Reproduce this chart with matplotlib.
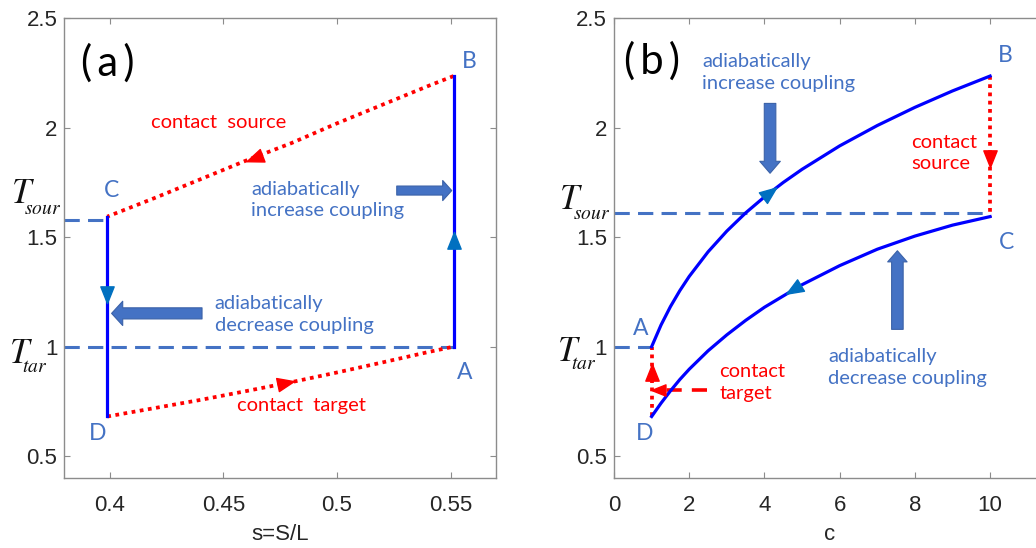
import numpy as np
import matplotlib
matplotlib.use("Agg")
import matplotlib.pyplot as plt
from matplotlib.markers import MarkerStyle
from matplotlib.path import Path
from matplotlib.transforms import Affine2D

# ---- panel (a): T against s=S/L ----
s_lim = (0.38, 0.57)
s_ticks = [0.4, 0.45, 0.5, 0.55]
s_ticklabels = ['0.4', '0.45', '0.5', '0.55']

s_AB = [0.5513, 0.5513]          # adiabatic stroke A -> B
T_AB = [1.0, 2.236]
s_CD = [0.3989, 0.3989]          # adiabatic stroke C -> D
T_CD = [1.594, 0.681]
s_BC = [0.5513, 0.54, 0.52, 0.50, 0.48, 0.46, 0.44, 0.42, 0.3989]   # contact source
T_BC = [2.236, 2.19, 2.105, 2.02, 1.93, 1.85, 1.765, 1.68, 1.594]
s_DA = [0.3989, 0.42, 0.44, 0.46, 0.48, 0.50, 0.52, 0.54, 0.5513]   # contact target
T_DA = [0.681, 0.72, 0.757, 0.797, 0.838, 0.882, 0.928, 0.975, 1.0]
T_sour_a = 1.58
T_tar_a = 1.0

# ---- panel (b): T against c ----
c_lim = (0, 11.48)
c_ticks = [0, 2, 4, 6, 8, 10]
c_AB = [1.0, 1.25, 1.5, 1.75, 2.0, 2.5, 3.0, 3.5, 4.0, 4.5, 5.0, 6.0, 7.0, 8.0, 9.0, 10.0]
T_cAB = [1.0, 1.099, 1.183, 1.256, 1.321, 1.433, 1.528, 1.611, 1.684, 1.750, 1.810,
         1.917, 2.010, 2.093, 2.168, 2.236]
c_CD = [10.0, 9.0, 8.0, 7.0, 6.0, 5.0, 4.0, 3.5, 3.0, 2.5, 2.0, 1.75, 1.5, 1.25, 1.0]
T_cCD = [1.594, 1.555, 1.505, 1.445, 1.370, 1.283, 1.180, 1.120, 1.054, 0.981, 0.897,
         0.850, 0.798, 0.742, 0.681]
c_BC = [10.0, 10.0]
T_cBC = [2.236, 1.594]
c_DA = [1.0, 1.0]
T_cDA = [0.681, 1.0]
T_sour_b = 1.612
T_tar_b = 1.0

T_lim = (0.4, 2.5)
T_ticks = [0.5, 1, 1.5, 2, 2.5]
T_ticklabels = ['0.5', '1', '1.5', '2', '2.5']

BLUE = '#0000FF'
SHAPE = '#4472C4'
MARK = '#0070C0'
RED = '#FF0000'
ANN_FONT = ['Lato', 'DejaVu Sans']
TICK_FONT = ['Liberation Sans Narrow', 'Liberation Sans', 'DejaVu Sans']

head_path = Path([(0.65, 0), (-0.55, 0.48), (-0.55, -0.48), (0.65, 0)],
                 [Path.MOVETO, Path.LINETO, Path.LINETO, Path.CLOSEPOLY])


def arrow_head(ax, p, q, color, ms):
    # arrowhead sitting at p, pointing toward q (direction taken in screen space)
    a = ax.transData.transform(p)
    b = ax.transData.transform(q)
    ang = np.degrees(np.arctan2(b[1] - a[1], b[0] - a[0]))
    m = MarkerStyle(head_path, transform=Affine2D().rotate_deg(ang))
    ax.plot([p[0]], [p[1]], ls='none', marker=m, ms=ms, color=color,
            mec=color, zorder=6, clip_on=False)


def block_arrow(ax, tail, tip, hl, hw, tw):
    ax.annotate('', xy=tip, xytext=tail,
                arrowprops=dict(arrowstyle='simple,head_length=%g,head_width=%g,tail_width=%g'
                                % (hl, hw, tw),
                                fc=SHAPE, ec='#3B62A8', lw=0.8, mutation_scale=10,
                                shrinkA=0, shrinkB=0), zorder=4)


def style_axes(ax):
    for sp in ax.spines.values():
        sp.set_color('#8c8c8c')
        sp.set_linewidth(1.0)
    ax.tick_params(direction='in', length=4, width=0.8, color='#8c8c8c',
                   top=True, right=True, labelcolor='#262626', labelsize=16)
    ax.tick_params(axis='x', pad=12)
    ax.tick_params(axis='y', pad=5)
    ax.set_ylim(*T_lim)
    ax.set_yticks(T_ticks)
    ax.set_yticklabels(T_ticklabels, family=TICK_FONT)


def txt(ax, x, y, s, color=SHAPE, size=14.5, **kw):
    ax.text(x, y, s, color=color, fontsize=size, family=ANN_FONT, **kw)


def temp_label(ax, x, y, sub, xs, ys):
    # italic T with a small, low subscript, placed left of the y axis
    tr = ax.get_yaxis_transform()
    ax.text(x, y, r'$T$', transform=tr, fontsize=25, math_fontfamily='stix',
            ha='left', va='baseline', color='#111111')
    ax.text(xs, ys, r'$%s$' % sub, transform=tr, fontsize=14, math_fontfamily='stix',
            ha='left', va='baseline', color='#111111')


fig = plt.figure(figsize=(10.36, 5.48), dpi=100)
axa = fig.add_axes([0.0621, 0.1277, 0.4167, 0.839])
axb = fig.add_axes([0.5927, 0.1277, 0.4167, 0.839])

# ---------- (a) ----------
axa.set_xlim(*s_lim)
axa.set_xticks(s_ticks)
axa.set_xticklabels(s_ticklabels, family=TICK_FONT)
style_axes(axa)

dash_kw = dict(color=SHAPE, lw=2.2, dashes=(5.0, 2.7), zorder=2)
dot_kw = dict(color=RED, lw=2.7, dashes=(1.0, 1.2), zorder=3)
axa.plot([s_lim[0], s_AB[0]], [T_tar_a, T_tar_a], **dash_kw)
axa.plot([s_lim[0], s_CD[0]], [T_sour_a, T_sour_a], **dash_kw)
axa.plot(s_BC, T_BC, **dot_kw)
axa.plot(s_DA, T_DA, **dot_kw)
axa.plot(s_AB, T_AB, color=BLUE, lw=2.3, zorder=4)
axa.plot(s_CD, T_CD, color=BLUE, lw=2.3, zorder=4)

arrow_head(axa, (0.464, 1.86), (0.44, 1.765), RED, 13)
arrow_head(axa, (0.477, 0.832), (0.50, 0.882), RED, 13)
arrow_head(axa, (s_AB[0], 1.482), (s_AB[0], 2.0), MARK, 13)
arrow_head(axa, (s_CD[0], 1.242), (s_CD[0], 1.0), MARK, 13)

block_arrow(axa, (0.5263, 1.713), (0.5505, 1.713), 0.65, 1.45, 0.65)
block_arrow(axa, (0.4406, 1.152), (0.4008, 1.152), 0.8, 1.75, 0.8)

txt(axa, 0.399, 2.296, '(\u2009a\u2009)', color='black', size=30, ha='center', va='center')
txt(axa, 0.5584, 2.304, 'B', size=16.5, ha='center', va='center')
txt(axa, 0.556, 0.883, 'A', size=16.5, ha='center', va='center')
txt(axa, 0.4007, 1.713, 'C', size=16.5, ha='center', va='center')
txt(axa, 0.3947, 0.604, 'D', size=16.5, ha='center', va='center')
txt(axa, 0.448, 2.025, 'contact  source', color=RED, ha='center', va='center')
txt(axa, 0.4845, 0.732, 'contact  target', color=RED, ha='center', va='center')
txt(axa, 0.4622, 1.669, 'adiabatically\nincrease coupling', ha='left', va='center',
    linespacing=1.3)
txt(axa, 0.4462, 1.147, 'adiabatically\ndecrease coupling', ha='left', va='center',
    linespacing=1.3)

temp_label(axa, -0.124, 1.656, 'sour', -0.093, 1.607)
temp_label(axa, -0.128, 0.926, 'tar', -0.097, 0.885)
axa.set_xlabel('s=S/L', fontsize=16, family=TICK_FONT, color='#262626', labelpad=6)

# ---------- (b) ----------
axb.set_xlim(*c_lim)
axb.set_xticks(c_ticks)
axb.set_xticklabels([str(v) for v in c_ticks], family=TICK_FONT)
style_axes(axb)

axb.plot([c_lim[0], c_DA[1]], [T_tar_b, T_tar_b], **dash_kw)
axb.plot([c_lim[0], c_BC[0]], [T_sour_b, T_sour_b], **dash_kw)
axb.plot(c_BC, T_cBC, **dot_kw)
axb.plot(c_DA, T_cDA, **dot_kw)
axb.plot(c_AB, T_cAB, color=BLUE, lw=2.3, zorder=4)
axb.plot(c_CD, T_cCD, color=BLUE, lw=2.3, zorder=4)

arrow_head(axb, (4.12, 1.70), (4.5, 1.750), MARK, 13)
arrow_head(axb, (4.79, 1.262), (4.0, 1.180), MARK, 13)
arrow_head(axb, (10.0, 1.86), (10.0, 1.6), RED, 13)
arrow_head(axb, (1.0, 0.878), (1.0, 1.0), RED, 13)

# dashed pointer to the target contact stroke
axb.plot([2.46, 1.3], [0.80, 0.80], color=RED, lw=2.6, dashes=(4.2, 2.8), zorder=3)
arrow_head(axb, (1.2, 0.80), (0.9, 0.80), RED, 11)

block_arrow(axb, (4.149, 2.111), (4.149, 1.792), 0.86, 1.48, 0.83)
block_arrow(axb, (7.535, 1.079), (7.535, 1.438), 0.8, 1.4, 0.83)

txt(axb, 1.01, 2.304, '(\u2009b\u2009)', color='black', size=30, ha='center', va='center')
txt(axb, 10.40, 2.328, 'B', size=16.5, ha='center', va='center')
txt(axb, 10.44, 1.477, 'C', size=16.5, ha='center', va='center')
txt(axb, 0.71, 1.083, 'A', size=16.5, ha='center', va='center')
txt(axb, 0.82, 0.604, 'D', size=16.5, ha='center', va='center')
txt(axb, 2.337, 2.252, 'adiabatically\nincrease coupling', ha='left', va='center',
    linespacing=1.3)
txt(axb, 7.90, 1.885, 'contact\nsource', color=RED, ha='left', va='center',
    linespacing=1.3)
txt(axb, 2.80, 0.836, 'contact\ntarget', color=RED, ha='left', va='center',
    linespacing=1.3)
txt(axb, 5.69, 0.905, 'adiabatically\ndecrease coupling', ha='left', va='center',
    linespacing=1.3)

temp_label(axb, -0.127, 1.629, 'sour', -0.096, 1.583)
temp_label(axb, -0.131, 0.935, 'tar', -0.100, 0.896)
axb.set_xlabel('c', fontsize=16, family=TICK_FONT, color='#262626', labelpad=6)

fig.savefig('out.png', dpi=100)
